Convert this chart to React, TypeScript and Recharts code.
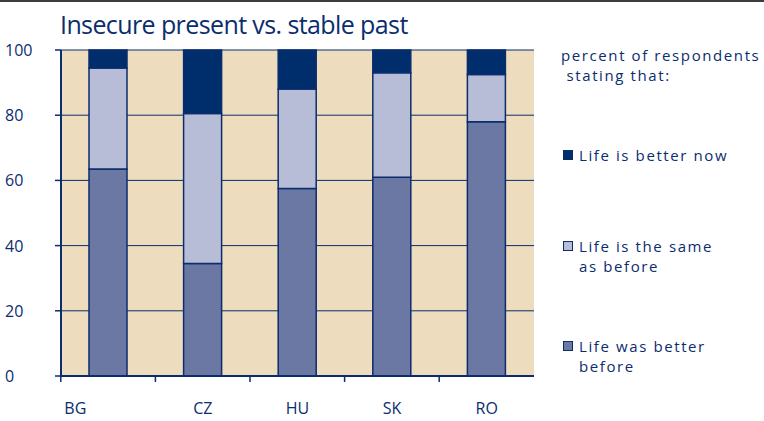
import { Bar, BarChart, CartesianGrid, XAxis, YAxis } from "recharts"

const countries = ["BG", "CZ", "HU", "SK", "RO"]
const betterBefore = [63.5, 34.5, 57.5, 61, 78]
const sameAsBefore = [31, 46, 30.5, 32, 14.5]
const betterNow = [5.5, 19.5, 12, 7, 7.5]
const yTicks = [0, 20, 40, 60, 80, 100]

const NAVY = "#0b2d6e"
const FONT = "'Open Sans', 'DejaVu Sans', sans-serif"

const series = [
  { key: "before", lines: ["Life was better", "before"], color: "#6b78a3" },
  { key: "same", lines: ["Life is the same", "as before"], color: "#b8bdd7" },
  { key: "now", lines: ["Life is better now"], color: "#002d6c" },
]

const data = countries.map((c, i) => ({
  country: c,
  before: betterBefore[i],
  same: sameAsBefore[i],
  now: betterNow[i],
}))

const YTick = ({ y, payload }: any) => (
  <text x={5} y={y} dy={6} textAnchor="start" fill={NAVY} fontSize={16} fontFamily={FONT}>
    {payload.value}
  </text>
)

// marks sit on the band edges, BG label is pushed left like in the print
const XTick = ({ x, y, payload, index }: any) => {
  const half = 47.5
  return (
    <g>
      <line x1={x - half} x2={x - half} y1={y - 8} y2={y - 2} stroke={NAVY} strokeWidth={1.5} />
      <text
        x={index === 0 ? x - 33 : x}
        y={y + 30}
        textAnchor="middle"
        fill={NAVY}
        fontSize={16}
        fontFamily={FONT}
      >
        {payload.value}
      </text>
    </g>
  )
}

const LegendBox = () => {
  const tops = [150, 241, 341]
  const items = [...series].reverse()
  return (
    <div
      style={{
        position: "absolute",
        left: 555,
        top: 45,
        fontFamily: FONT,
        color: NAVY,
        fontSize: 15,
        letterSpacing: 1.6,
        lineHeight: "20px",
      }}
    >
      <div style={{ position: "absolute", left: 6, top: 0, whiteSpace: "nowrap" }}>
        percent of respondents
        <br />
        &nbsp;stating that:
      </div>
      {items.map((s, i) => (
        <div key={s.key} style={{ position: "absolute", left: 8, top: tops[i] - 50, whiteSpace: "nowrap" }}>
          <span
            style={{
              position: "absolute",
              left: 0,
              top: 5,
              width: 8,
              height: 8,
              background: s.color,
              border: `1px solid ${NAVY}`,
            }}
          />
          <div style={{ paddingLeft: 16 }}>
            {s.lines.map((l) => (
              <div key={l}>{l}</div>
            ))}
          </div>
        </div>
      ))}
    </div>
  )
}

export default function App() {
  return (
    <div
      style={{
        position: "absolute",
        left: 0,
        top: 0,
        width: 764,
        height: 421,
        background: "#fff",
        overflow: "hidden",
      }}
    >
      <div style={{ position: "absolute", left: 0, top: 0, width: 764, height: 2, background: "#3c3c3c" }} />
      <div
        style={{
          position: "absolute",
          left: 60,
          top: 7,
          fontFamily: FONT,
          fontSize: 25,
          letterSpacing: -0.6,
          color: NAVY,
          whiteSpace: "nowrap",
        }}
      >
        Insecure present vs. stable past
      </div>
      <div style={{ position: "absolute", left: 0, top: 0 }}>
        <BarChart width={764} height={421} data={data} margin={{ top: 50, right: 230, bottom: 0, left: 0 }} barSize={38}>
          <CartesianGrid
            vertical={false}
            stroke={NAVY}
            strokeWidth={1}
            fill="#eddcbd"
            fillOpacity={1}
          />
          <XAxis
            dataKey="country"
            height={45}
            tickLine={false}
            axisLine={{ stroke: NAVY, strokeWidth: 2 }}
            tick={<XTick />}
            interval={0}
          />
          <YAxis
            width={61}
            domain={[0, 100]}
            ticks={yTicks}
            tick={<YTick />}
            tickLine={{ stroke: NAVY, strokeWidth: 1.5 }}
            tickSize={6}
            axisLine={{ stroke: NAVY, strokeWidth: 2 }}
          />
          <YAxis
            yAxisId="right"
            orientation="right"
            width={0}
            domain={[0, 100]}
            tick={false}
            tickLine={false}
            axisLine={{ stroke: NAVY, strokeWidth: 1.5 }}
          />
          {series.map((s) => (
            <Bar
              key={s.key}
              dataKey={s.key}
              stackId="a"
              fill={s.color}
              stroke={NAVY}
              strokeWidth={1.5}
              isAnimationActive={false}
            />
          ))}
        </BarChart>
      </div>
      <LegendBox />
    </div>
  )
}
